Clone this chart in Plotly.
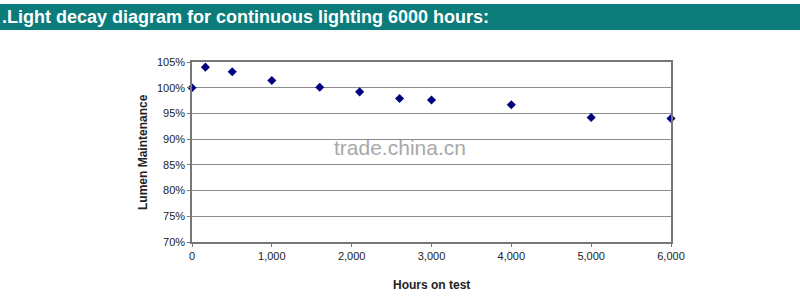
import plotly.graph_objects as go

hours = [0, 168, 504, 1000, 1600, 2100, 2600, 3000, 4000, 5000, 6000]
maintenance = [100.0, 104.0, 103.1, 101.4, 100.1, 99.2, 97.9, 97.6, 96.7, 94.2, 94.0]
y_ticks = [70, 75, 80, 85, 90, 95, 100, 105]
y_labels = ["70%", "75%", "80%", "85%", "90%", "95%", "100%", "105%"]
x_ticks = [0, 1000, 2000, 3000, 4000, 5000, 6000]
x_labels = ["0", "1,000", "2,000", "3,000", "4,000", "5,000", "6,000"]

W, H = 800, 308
L, R, T, B = 192, 129, 62, 66
pw, ph = W - L - R, H - T - B

def px(x):
    return (x - L) / pw

def py(y):
    return (H - B - y) / ph

fig = go.Figure()
fig.add_trace(go.Scatter(
    x=hours, y=maintenance, mode="markers",
    marker=dict(symbol="diamond", size=7, color="#000080"),
    cliponaxis=False, showlegend=False,
))

fig.update_layout(
    width=W, height=H,
    margin=dict(l=L, r=R, t=T, b=B),
    paper_bgcolor="white", plot_bgcolor="white",
    font=dict(family="Liberation Sans, Arial, sans-serif", color="#222222", size=11),
    xaxis=dict(range=[0, 6000], tickvals=x_ticks, ticktext=x_labels, showgrid=False,
               zeroline=False, showline=True, mirror=True, linecolor="#777777", linewidth=1.5,
               ticks="outside", ticklen=3, tickcolor="#777777",
               tickfont=dict(size=11, color="#222222")),
    yaxis=dict(range=[70, 105], tickvals=y_ticks, ticktext=y_labels, showgrid=True,
               gridcolor="#8c8c8c", gridwidth=1, zeroline=False, showline=True,
               mirror=True, linecolor="#777777", linewidth=1.5,
               ticks="outside", ticklen=3, tickcolor="#777777",
               tickfont=dict(size=11, color="#222222")),
    shapes=[dict(type="rect", xref="paper", yref="paper",
                 x0=px(0), x1=px(800), y0=py(30), y1=py(4),
                 fillcolor="#0b7c7a", line=dict(width=0), layer="above")],
    annotations=[
        dict(text="<b>.Light decay diagram for continuous lighting 6000 hours:</b>",
             xref="paper", yref="paper", x=px(0), y=py(17), xanchor="left", yanchor="middle",
             showarrow=False, font=dict(size=18, color="white", family="Liberation Sans, Arial, sans-serif")),
        dict(text="<b>Lumen Maintenance</b>", xref="paper", yref="paper",
             x=px(143), y=py(152), textangle=-90, xanchor="center", yanchor="middle",
             showarrow=False, font=dict(size=12, color="#222222")),
        dict(text="<b>Hours on test</b>", xref="paper", yref="paper",
             x=px(431), y=py(285), xanchor="center", yanchor="middle",
             showarrow=False, font=dict(size=12, color="#222222")),
        dict(text="trade.china.cn", xref="paper", yref="paper",
             x=px(400), y=py(147), xanchor="center", yanchor="middle",
             showarrow=False, font=dict(size=21, color="#a8a8a8")),
    ],
)

fig.write_html("out.html")
